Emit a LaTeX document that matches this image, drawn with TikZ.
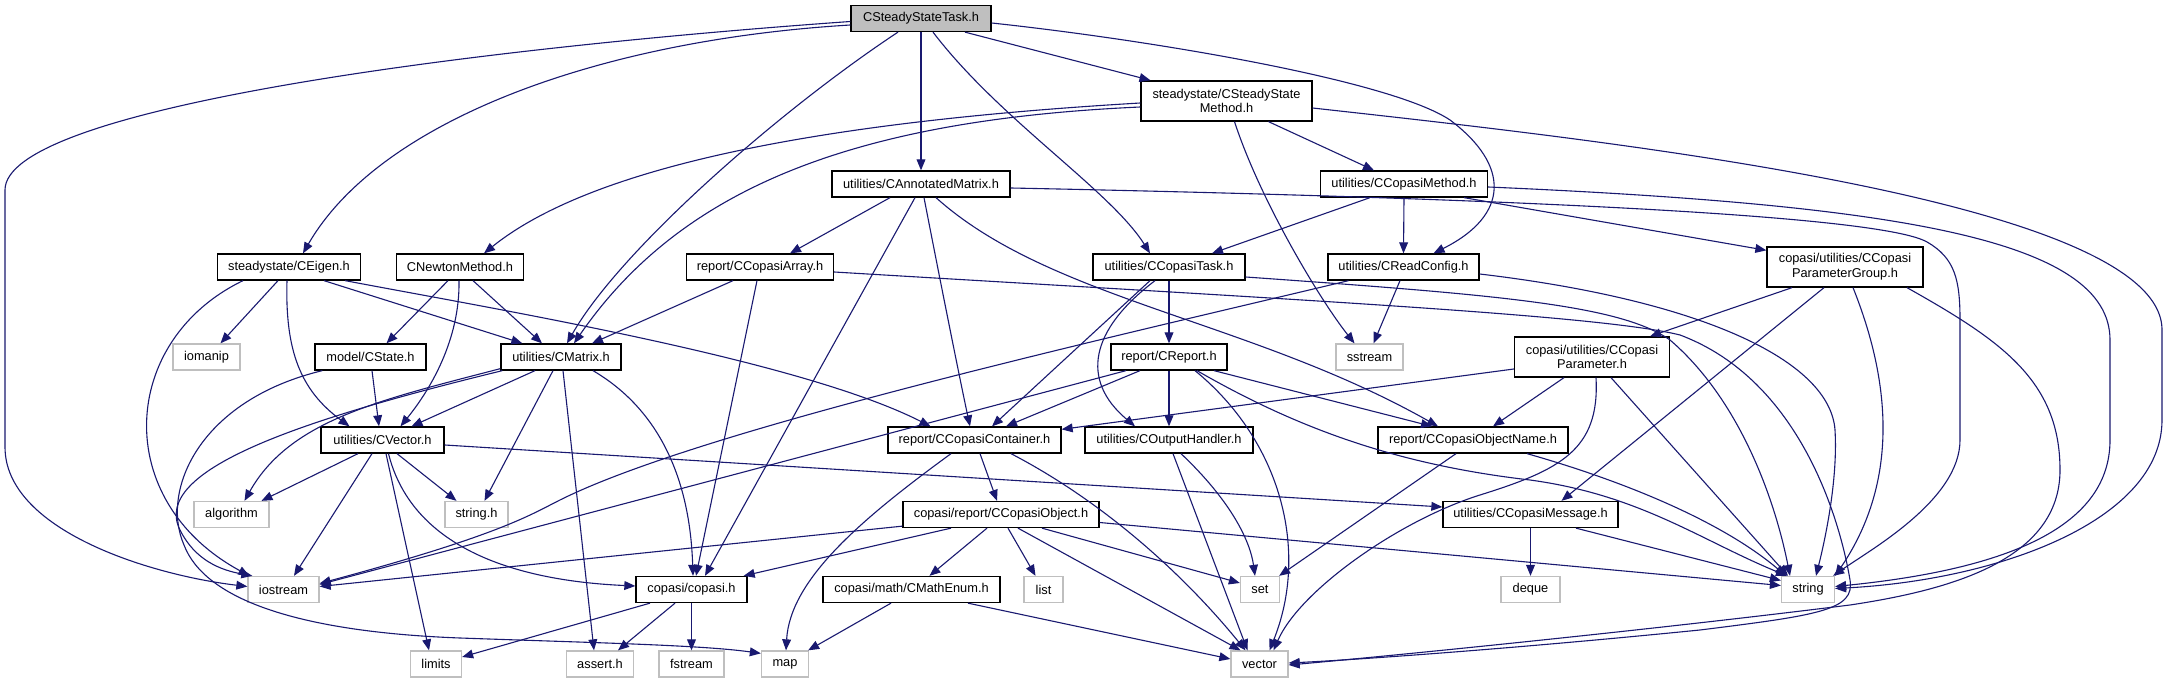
\documentclass[tikz,border=0pt]{standalone}
\usepackage{fontspec}
\setmainfont{Liberation Sans}
\usetikzlibrary{calc,arrows.meta}
\definecolor{edgec}{RGB}{25,25,112}
\definecolor{greyb}{RGB}{191,191,191}
\newcommand\dfont{\fontsize{6.4}{7.4}\selectfont}
\begin{document}
\begin{tikzpicture}[x=0.5pt,y=-0.5pt,
  nb/.style={draw=black, line width=0.65pt, fill=white, inner sep=0pt, minimum height=13pt, font=\dfont, align=center},
  nt/.style={nb, minimum height=20pt},
  ng/.style={nb, draw=greyb},
  e/.style={draw=edgec, line width=0.55pt, -{Triangle[length=5.5pt,width=4.4pt]}}]
\fill[white] (0,0) rectangle (2168,683);
\useasboundingbox (0,0) rectangle (2168,683);
% nodes
\node[nb, fill=greyb, minimum width=70pt] (root) at (921,18.5) {CSteadyStateTask.h};
\node[nt, minimum width=85.5pt] (ssm) at (1226.5,101) {steadystate/CSteadyState\\Method.h};
\node[nb, minimum width=89pt] (am) at (921,184) {utilities/CAnnotatedMatrix.h};
\node[nb, minimum width=83.5pt] (cm) at (1404,184) {utilities/CCopasiMethod.h};
\node[nb, minimum width=71.5pt] (eig) at (289,267) {steadystate/CEigen.h};
\node[nb, minimum width=63.5pt] (nm) at (460,267) {CNewtonMethod.h};
\node[nb, minimum width=73.5pt] (arr) at (760,267) {report/CCopasiArray.h};
\node[nb, minimum width=76pt] (task) at (1169,267) {utilities/CCopasiTask.h};
\node[nb, minimum width=75.5pt] (rc) at (1403.5,267) {utilities/CReadConfig.h};
\node[nt, minimum width=78pt] (pg) at (1845,267) {copasi/utilities/CCopasi\\ParameterGroup.h};
\node[ng, minimum width=33.5pt] (iomanip) at (206.5,357) {iomanip};
\node[nb, minimum width=55.5pt] (state) at (370.5,357) {model/CState.h};
\node[nb, minimum width=60pt] (mat) at (561,357) {utilities/CMatrix.h};
\node[nb, minimum width=58pt] (rep) at (1169,357) {report/CReport.h};
\node[ng, minimum width=33.5pt] (sstream) at (1369.5,357) {sstream};
\node[nt, minimum width=77.5pt] (par) at (1592,357) {copasi/utilities/CCopasi\\Parameter.h};
\node[nb, minimum width=61.5pt] (vec) at (382.5,440) {utilities/CVector.h};
\node[nb, minimum width=86.5pt] (cont) at (974.5,440) {report/CCopasiContainer.h};
\node[nb, minimum width=84pt] (oh) at (1169,440) {utilities/COutputHandler.h};
\node[nb, minimum width=95pt] (on) at (1473,440) {report/CCopasiObjectName.h};
\node[ng, minimum width=37.5pt] (alg) at (231.5,514.5) {algorithm};
\node[ng, minimum width=31.5pt] (strh) at (476.5,514.5) {string.h};
\node[nb, minimum width=98pt] (obj) at (1001,514.5) {copasi/report/CCopasiObject.h};
\node[nb, minimum width=87.5pt] (msg) at (1530.5,514.5) {utilities/CCopasiMessage.h};
\node[ng, minimum width=35.5pt] (ios) at (283.5,589.5) {iostream};
\node[nb, minimum width=55.5pt] (copasi) at (691.5,589.5) {copasi/copasi.h};
\node[nb, minimum width=88.5pt] (me) at (911.5,589.5) {copasi/math/CMathEnum.h};
\node[ng, minimum width=19.5pt] (list) at (1043.5,589.5) {list};
\node[ng, minimum width=19.5pt] (set) at (1260,589.5) {set};
\node[ng, minimum width=29.5pt] (deque) at (1530.5,589.5) {deque};
\node[ng, minimum width=26.5pt] (string) at (1808,589.5) {string};
\node[ng, minimum width=25.5pt] (limits) at (436,664) {limits};
\node[ng, minimum width=33.5pt] (assert) at (600,664) {assert.h};
\node[ng, minimum width=32.5pt] (fstream) at (691.5,664) {fstream};
\node[ng, minimum width=23.5pt] (map) at (785,664) {map};
\node[ng, minimum width=28.5pt] (vector) at (1259.5,664) {vector};
% root
\draw[e] ($(root.west)+(0,3)$) .. controls (450,50) and (5,110) .. (5,190) -- (5,447) .. controls (5,530) and (150,575) .. ($(ios.west)+(0,-3)$);
\draw[e] ($(root.west)+(0,6.5)$) .. controls (600,40) and (380,120) .. ($(eig.north)+(14,0)$);
\draw[e] ($(root.south)+(-23,0)$) .. controls (780,110) and (620,250) .. ($(mat.north)+(6,0)$);
\draw[e] (root.south) -- (am.north);
\draw[e] ($(root.south)+(12,0)$) .. controls (1000,120) and (1110,190) .. ($(task.north)+(-19,0)$);
\draw[e] ($(root.south)+(44,0)$) -- ($(ssm.north)+(-76,0)$);
\draw[e] ($(root.east)+(0,4.5)$) .. controls (1150,40) and (1390,80) .. (1450,120) .. controls (1510,165) and (1510,215) .. ($(rc.north)+(30,0)$);
% ssm
\draw[e] ($(ssm.west)+(0,2)$) .. controls (850,120) and (600,160) .. ($(nm.north)+(24,0)$);
\draw[e] ($(ssm.west)+(0,6)$) .. controls (850,120) and (680,190) .. ($(mat.north)+(13,0)$);
\draw[e] ($(ssm.south)+(8,0)$) .. controls (1260,200) and (1320,300) .. ($(sstream.north)+(-15,0)$);
\draw[e] ($(ssm.south)+(42,0)$) -- ($(cm.north)+(-30,0)$);
\draw[e] ($(ssm.east)+(0,7)$) .. controls (1600,140) and (2162,200) .. (2162,330) -- (2162,420) .. controls (2162,520) and (2000,580) .. ($(string.east)+(0,-1)$);
% am
\draw[e] ($(am.south)+(-31,0)$) -- ($(arr.north)+(30,0)$);
\draw[e] ($(am.south)+(-6,0)$) -- ($(copasi.north)+(13.5,0)$);
\draw[e] ($(am.south)+(3,0)$) .. controls (940,280) and (960,380) .. ($(cont.north)+(-4.5,0)$);
\draw[e] ($(am.south)+(15,0)$) .. controls (1050,300) and (1250,320) .. ($(on.north)+(-35,0)$);
\draw[e] ($(am.east)+(0,4)$) .. controls (1500,198) and (1880,215) .. (1927,242) .. controls (1955,258) and (1960,280) .. (1960,320) -- (1960,440) .. controls (1960,500) and (1870,550) .. ($(string.north east)+(-2,0)$);
% cm
\draw[e] ($(cm.south)+(-34,0)$) -- ($(task.north)+(43,0)$);
\draw[e] (cm.south) -- (rc.north);
\draw[e] ($(cm.south)+(60,0)$) -- ($(pg.north west)+(0,4)$);
\draw[e] ($(cm.east)+(0,3)$) .. controls (1900,205) and (2110,240) .. (2110,340) -- (2110,440) .. controls (2110,530) and (2000,570) .. ($(string.east)+(0,-3)$);
% eig
\draw[e] ($(eig.south)+(-11,0)$) -- ($(iomanip.north)+(14,0)$);
\draw[e] ($(eig.south)+(-46,0)$) .. controls (120,340) and (110,500) .. ($(ios.north west)+(2,0)$);
\draw[e] ($(eig.south)+(-2,0)$) .. controls (285,350) and (300,390) .. ($(vec.north)+(-33,0)$);
\draw[e] ($(eig.south)+(35,0)$) -- ($(mat.north west)+(22,0)$);
\draw[e] ($(eig.south east)+(-16,0)$) .. controls (500,310) and (800,360) .. ($(cont.north)+(-44,0)$);
% nm
\draw[e] ($(nm.south)+(-12,0)$) -- ($(state.north)+(16,0)$);
\draw[e] ($(nm.south)+(-1,0)$) .. controls (460,340) and (430,390) .. ($(vec.north)+(18,0)$);
\draw[e] ($(nm.south)+(13,0)$) -- ($(mat.north)+(-19,0)$);
% arr
\draw[e] ($(arr.south)+(-27,0)$) -- ($(mat.north)+(31,0)$);
\draw[e] ($(arr.south)+(-3,0)$) -- ($(copasi.north)+(4.5,0)$);
\draw[e] ($(arr.east)+(0,5)$) .. controls (1300,300) and (1600,315) .. (1680,335) .. controls (1800,380) and (1840,520) .. (1850,580) .. controls (1855,610) and (1820,615) .. (1700,630) .. controls (1500,650) and (1350,660) .. ($(vector.east)+(0,-1)$);
% task
\draw[e] ($(task.south)+(-19,0)$) -- ($(cont.north)+(17.5,0)$);
\draw[e] ($(task.south)+(-14,0)$) .. controls (1090,330) and (1080,380) .. ($(oh.north)+(-34,0)$);
\draw[e] (task.south) -- (rep.north);
\draw[e] ($(task.east)+(0,10)$) .. controls (1500,295) and (1620,305) .. (1670,340) .. controls (1740,400) and (1775,500) .. ($(string.north)+(-18,0)$);
% rc
\draw[e] ($(rc.south)+(-55,0)$) .. controls (1100,340) and (700,430) .. (560,500) .. controls (530,515) and (500,535) .. ($(ios.east)+(0,-6)$);
\draw[e] ($(rc.south)+(-3.5,0)$) -- ($(sstream.north)+(4,0)$);
\draw[e] ($(rc.east)+(0,7)$) .. controls (1700,300) and (1830,360) .. (1835,430) .. controls (1838,480) and (1825,540) .. ($(string.north)+(8,0)$);
% pg
\draw[e] ($(pg.south)+(-53,0)$) -- ($(par.north)+(58,0)$);
\draw[e] ($(pg.south)+(-21,0)$) -- ($(msg.north)+(31,0)$);
\draw[e] ($(pg.south)+(8,0)$) .. controls (1890,380) and (1900,480) .. (string.north east);
\draw[e] ($(pg.south)+(62,0)$) .. controls (2000,340) and (2060,380) .. (2060,470) .. controls (2060,560) and (1950,590) .. (1850,605) .. controls (1650,630) and (1400,655) .. ($(vector.east)+(0,1)$);
% par
\draw[e] ($(par.west)+(0,12)$) -- ($(cont.north east)+(0,3)$);
\draw[e] ($(par.south)+(-28,0)$) -- ($(on.north)+(20,0)$);
\draw[e] ($(par.south)+(4,0)$) .. controls (1600,450) and (1560,470) .. (1480,495) .. controls (1400,520) and (1300,590) .. ($(vector.north)+(14,0)$);
\draw[e] ($(par.south)+(19,0)$) -- ($(string.north)+(-20,0)$);
% on
\draw[e] ($(on.south)+(-17,0)$) -- ($(set.north east)+(-1,0)$);
\draw[e] ($(on.south)+(54,0)$) .. controls (1620,480) and (1720,520) .. ($(string.north)+(-22,0)$);
% rep
\draw[e] ($(rep.south)+(-29,0)$) -- ($(cont.north)+(31.5,0)$);
\draw[e] ($(rep.south)+(-43,0)$) -- ($(ios.east)+(0,-5)$);
\draw[e] (rep.south) -- (oh.north);
\draw[e] ($(rep.south)+(45,0)$) -- ($(on.north)+(-41,0)$);
\draw[e] ($(rep.south)+(26,0)$) .. controls (1280,440) and (1310,550) .. ($(vector.north)+(10,0)$);
\draw[e] ($(rep.south)+(28,0)$) .. controls (1300,430) and (1400,465) .. (1530,480) .. controls (1640,495) and (1700,540) .. ($(string.north)+(-21,0)$);
% cont
\draw[e] ($(cont.south)+(5.5,0)$) -- ($(obj.north)+(-4,0)$);
\draw[e] ($(cont.south)+(-23.5,0)$) .. controls (860,520) and (790,580) .. ($(map.north)+(1,0)$);
\draw[e] ($(cont.south)+(36.5,0)$) .. controls (1100,500) and (1180,570) .. ($(vector.north)+(-14,0)$);
% oh
\draw[e] ($(oh.south)+(4,0)$) -- ($(vector.north)+(-12,0)$);
\draw[e] ($(oh.south)+(12,0)$) .. controls (1230,500) and (1250,540) .. ($(set.north)+(-5,0)$);
% obj
\draw[e] ($(obj.south west)+(0,-2)$) -- ($(ios.east)+(0,-3)$);
\draw[e] ($(obj.south)+(-50,0)$) -- ($(copasi.north east)+(-4,0)$);
\draw[e] ($(obj.south)+(-14,0)$) -- ($(me.north)+(18,0)$);
\draw[e] ($(obj.south)+(7,0)$) -- ($(list.north)+(-8,0)$);
\draw[e] ($(obj.south)+(17,0)$) -- ($(vector.north)+(-19,0)$);
\draw[e] ($(obj.south)+(41,0)$) -- ($(set.west)+(0,-6.5)$);
\draw[e] ($(obj.east)+(0,8)$) -- ($(string.west)+(0,-4)$);
% me
\draw[e] ($(me.south)+(-20.5,0)$) -- ($(map.north east)+(-1,0)$);
\draw[e] ($(me.south)+(56.5,0)$) -- ($(vector.west)+(0,-5)$);
% mat
\draw[e] ($(mat.south)+(-26,0)$) -- ($(vec.north)+(29,0)$);
\draw[e] ($(mat.south west)+(0,-2)$) .. controls (380,400) and (290,420) .. ($(alg.north)+(13,0)$);
\draw[e] ($(mat.south west)+(2,0)$) .. controls (300,420) and (150,470) .. (180,530) .. controls (195,560) and (220,570) .. ($(ios.north west)+(5,0)$);
\draw[e] ($(mat.south)+(-8,0)$) -- ($(strh.north)+(8,0)$);
\draw[e] ($(mat.south)+(2,0)$) -- ($(assert.north)+(-6,0)$);
\draw[e] ($(mat.south)+(32,0)$) .. controls (660,410) and (690,480) .. ($(copasi.north)+(1.5,0)$);
% state
\draw[e] ($(state.south)+(1.5,0)$) -- ($(vec.north)+(-3.5,0)$);
\draw[e] ($(state.south west)+(8,0)$) .. controls (200,400) and (160,490) .. (184,545) .. controls (205,600) and (300,632) .. (460,638) .. controls (600,643) and (700,645) .. ($(map.north west)+(0,3)$);
% vec
\draw[e] ($(vec.south)+(-24.5,0)$) -- ($(alg.north)+(30,0)$);
\draw[e] ($(vec.south)+(-10.5,0)$) -- ($(ios.north)+(10.5,0)$);
\draw[e] ($(vec.south)+(3.5,0)$) -- ($(limits.north)+(-7,0)$);
\draw[e] ($(vec.south)+(14.5,0)$) -- ($(strh.north)+(-20,0)$);
\draw[e] ($(vec.south)+(6,0)$) .. controls (410,540) and (500,580) .. ($(copasi.west)+(0,-3.5)$);
\draw[e] ($(vec.east)+(0,5)$) -- ($(msg.west)+(0,-7.5)$);
% copasi
\draw[e] ($(copasi.south)+(-41.5,0)$) -- ($(limits.east)+(0,-7)$);
\draw[e] ($(copasi.south)+(-16.5,0)$) -- ($(assert.north)+(18,0)$);
\draw[e] (copasi.south) -- (fstream.north);
% msg
\draw[e] (msg.south) -- (deque.north);
\draw[e] ($(msg.south)+(45.5,0)$) -- ($(string.west)+(0,-9)$);
\end{tikzpicture}
\end{document}
